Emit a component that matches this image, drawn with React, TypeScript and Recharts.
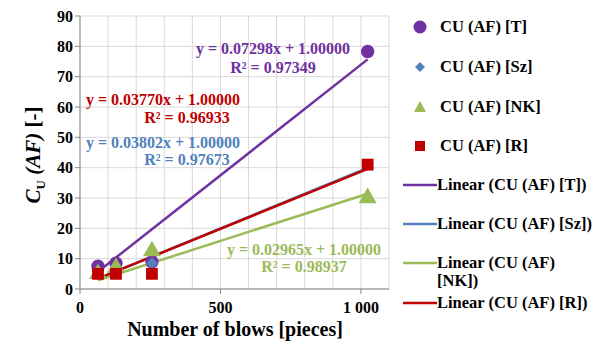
import React from 'react';
import { ComposedChart, Scatter, Line, XAxis, YAxis, ZAxis, CartesianGrid } from 'recharts';

// blows [pieces]
const blows = [64, 128, 256, 1024];

// measured C_U(AF) values
const cuT = [7.5, 8.5, 9, 78.3];
const cuSz = [6, 7.5, 8.5, 41];
const cuNK = [5, 7, 12.5, 30];
const cuR = [5, 5, 5, 41];

// trend line ends (first and last blow count)
const trendX = [64, 1024];
const trendT = [5.7, 75.7];
const trendSz = [3.4, 39.9];
const trendNK = [2.9, 31.4];
const trendR = [3.4, 39.6];

const xTicks = [0, 100, 200, 300, 400, 500, 600, 700, 800, 900, 1000, 1100];
const xLabels = [0, 500, 1000];
const yTicks = [0, 10, 20, 30, 40, 50, 60, 70, 80, 90];

const PURPLE = '#7030a0';
const BLUE = '#4f81bd';
const GREEN = '#9bbb59';
const RED = '#c00000';

const pts = (ys: number[]) => blows.map((x, i) => ({ x, y: ys[i] }));
const trend = (ys: number[]) => trendX.map((x, i) => ({ x, y: ys[i] }));

const font = "Liberation Serif, DejaVu Serif, serif";

const XTick = (props: any) => {
  const { x, y, payload } = props;
  if (!xLabels.includes(payload.value)) return <g />;
  return (
    <g>
      <line x1={x} x2={x} y1={y - 8} y2={y - 3} stroke="#868686" />
      <text x={x} y={y + 16} textAnchor="middle" style={{ fontFamily: font, fontWeight: 700, fontSize: 16 }} fill="#000">
        {payload.value === 1000 ? '1 000' : payload.value}
      </text>
    </g>
  );
};

// small diamond like the spreadsheet marker
const Diamond = (p: any) => (
  <polygon points={`${p.cx},${p.cy - 6} ${p.cx + 6},${p.cy} ${p.cx},${p.cy + 6} ${p.cx - 6},${p.cy}`} fill={BLUE} />
);

const eq = (text: string, color: string, left: number, top: number, w: number) => (
  <div style={{ position: 'absolute', left, top, width: w, textAlign: 'center', color, fontFamily: font, fontWeight: 700, fontSize: 16, lineHeight: '18px' }}>
    {text}
  </div>
);

const legendItems = [
  { label: 'CU (AF) [T]', kind: 'circle', color: PURPLE, top: 18 },
  { label: 'CU (AF) [Sz]', kind: 'diamond', color: BLUE, top: 58 },
  { label: 'CU (AF) [NK]', kind: 'triangle', color: GREEN, top: 98 },
  { label: 'CU (AF) [R]', kind: 'square', color: RED, top: 137 },
  { label: 'Linear (CU (AF) [T])', kind: 'line', color: PURPLE, top: 176 },
  { label: 'Linear (CU (AF) [Sz])', kind: 'line', color: BLUE, top: 215 },
  { label: 'Linear (CU (AF) [NK])', kind: 'line', color: GREEN, top: 254 },
  { label: 'Linear (CU (AF) [R])', kind: 'line', color: RED, top: 294 },
];

const Marker = ({ kind, color }: { kind: string; color: string }) => {
  if (kind === 'line') return <svg width={34} height={6}><line x1={0} x2={34} y1={3} y2={3} stroke={color} strokeWidth={2.5} /></svg>;
  return (
    <svg width={34} height={16}>
      {kind === 'circle' && <circle cx={17} cy={8} r={6.5} fill={color} />}
      {kind === 'diamond' && <polygon points="17,3 22,8 17,13 12,8" fill={color} />}
      {kind === 'triangle' && <polygon points="17,2 23,13 11,13" fill={color} />}
      {kind === 'square' && <rect x={12} y={3} width={10} height={10} fill={color} />}
    </svg>
  );
};

export default function App() {
  return (
    <div style={{ position: 'absolute', left: 0, top: 0, width: 603, height: 350, background: '#fff', fontFamily: font }}>
      <ComposedChart width={603} height={350} margin={{ top: 16, right: 214, bottom: 31, left: 50 }}>
        <CartesianGrid stroke="#d9d9d9" />
        <XAxis
          type="number"
          dataKey="x"
          domain={[0, 1100]}
          ticks={xTicks}
          interval={0}
          tick={<XTick />}
          tickLine={false}
          axisLine={{ stroke: '#868686' }}
          height={30}
          allowDataOverflow
        />
        <YAxis
          type="number"
          domain={[0, 90]}
          ticks={yTicks}
          interval={0}
          width={30}
          tickSize={5}
          tickLine={{ stroke: '#868686' }}
          axisLine={{ stroke: '#868686' }}
          tick={{ style: { fontFamily: font, fontWeight: 700, fontSize: 16 }, fill: '#000' }}
        />
        <ZAxis range={[140, 140]} />
        <Scatter data={pts(cuT)} dataKey="y" fill={PURPLE} shape="circle" isAnimationActive={false} />
        <Scatter data={pts(cuSz)} dataKey="y" fill={BLUE} shape={Diamond} isAnimationActive={false} />
        <Scatter data={pts(cuNK)} dataKey="y" fill={GREEN} shape="triangle" isAnimationActive={false} />
        <Scatter data={pts(cuR)} dataKey="y" fill={RED} shape="square" isAnimationActive={false} />
        <Line data={trend(trendT)} dataKey="y" stroke={PURPLE} strokeWidth={2.5} dot={false} isAnimationActive={false} />
        <Line data={trend(trendSz)} dataKey="y" stroke={BLUE} strokeWidth={2.5} dot={false} isAnimationActive={false} />
        <Line data={trend(trendNK)} dataKey="y" stroke={GREEN} strokeWidth={2.5} dot={false} isAnimationActive={false} />
        <Line data={trend(trendR)} dataKey="y" stroke={RED} strokeWidth={2.5} dot={false} isAnimationActive={false} />
      </ComposedChart>

      {eq('y = 0.07298x + 1.00000', PURPLE, 178, 40, 190)}
      {eq('R² = 0.97349', PURPLE, 178, 59, 190)}
      {eq('y = 0.03770x + 1.00000', RED, 68, 91, 190)}
      {eq('R² = 0.96933', RED, 92, 109, 190)}
      {eq('y = 0.03802x + 1.00000', BLUE, 68, 134, 190)}
      {eq('R² = 0.97673', BLUE, 92, 151, 190)}
      {eq('y = 0.02965x + 1.00000', GREEN, 209, 241, 190)}
      {eq('R² = 0.98937', GREEN, 209, 258, 190)}

      <div style={{ position: 'absolute', left: 35, top: 155, transform: 'translate(-50%, -50%) rotate(-90deg)', whiteSpace: 'nowrap', fontFamily: font, fontWeight: 700, fontSize: 21 }}>
        <i>C</i><sub style={{ fontSize: 13 }}>U</sub> <i>(AF)</i> [-]
      </div>
      <div style={{ position: 'absolute', left: 0, width: 470, top: 318, textAlign: 'center', fontFamily: font, fontWeight: 700, fontSize: 20 }}>
        Number of blows [pieces]
      </div>

      {legendItems.map((it) => {
        const wrap = it.label.includes('[NK])');
        return (
          <div key={it.label} style={{ position: 'absolute', left: 403, top: it.top, width: 200, display: 'flex', alignItems: wrap ? 'flex-start' : 'center', fontFamily: font, fontWeight: 700, fontSize: 16.5, lineHeight: '18px' }}>
            <div style={{ width: 34, flex: 'none', display: 'flex', justifyContent: 'center', marginTop: wrap ? 6 : 0 }}>
              <Marker kind={it.kind} color={it.color} />
            </div>
            <span style={{ marginLeft: it.kind === 'line' ? 0 : 3, whiteSpace: wrap ? 'normal' : 'nowrap', width: wrap ? 125 : undefined }}>{it.label}</span>
          </div>
        );
      })}
    </div>
  );
}
